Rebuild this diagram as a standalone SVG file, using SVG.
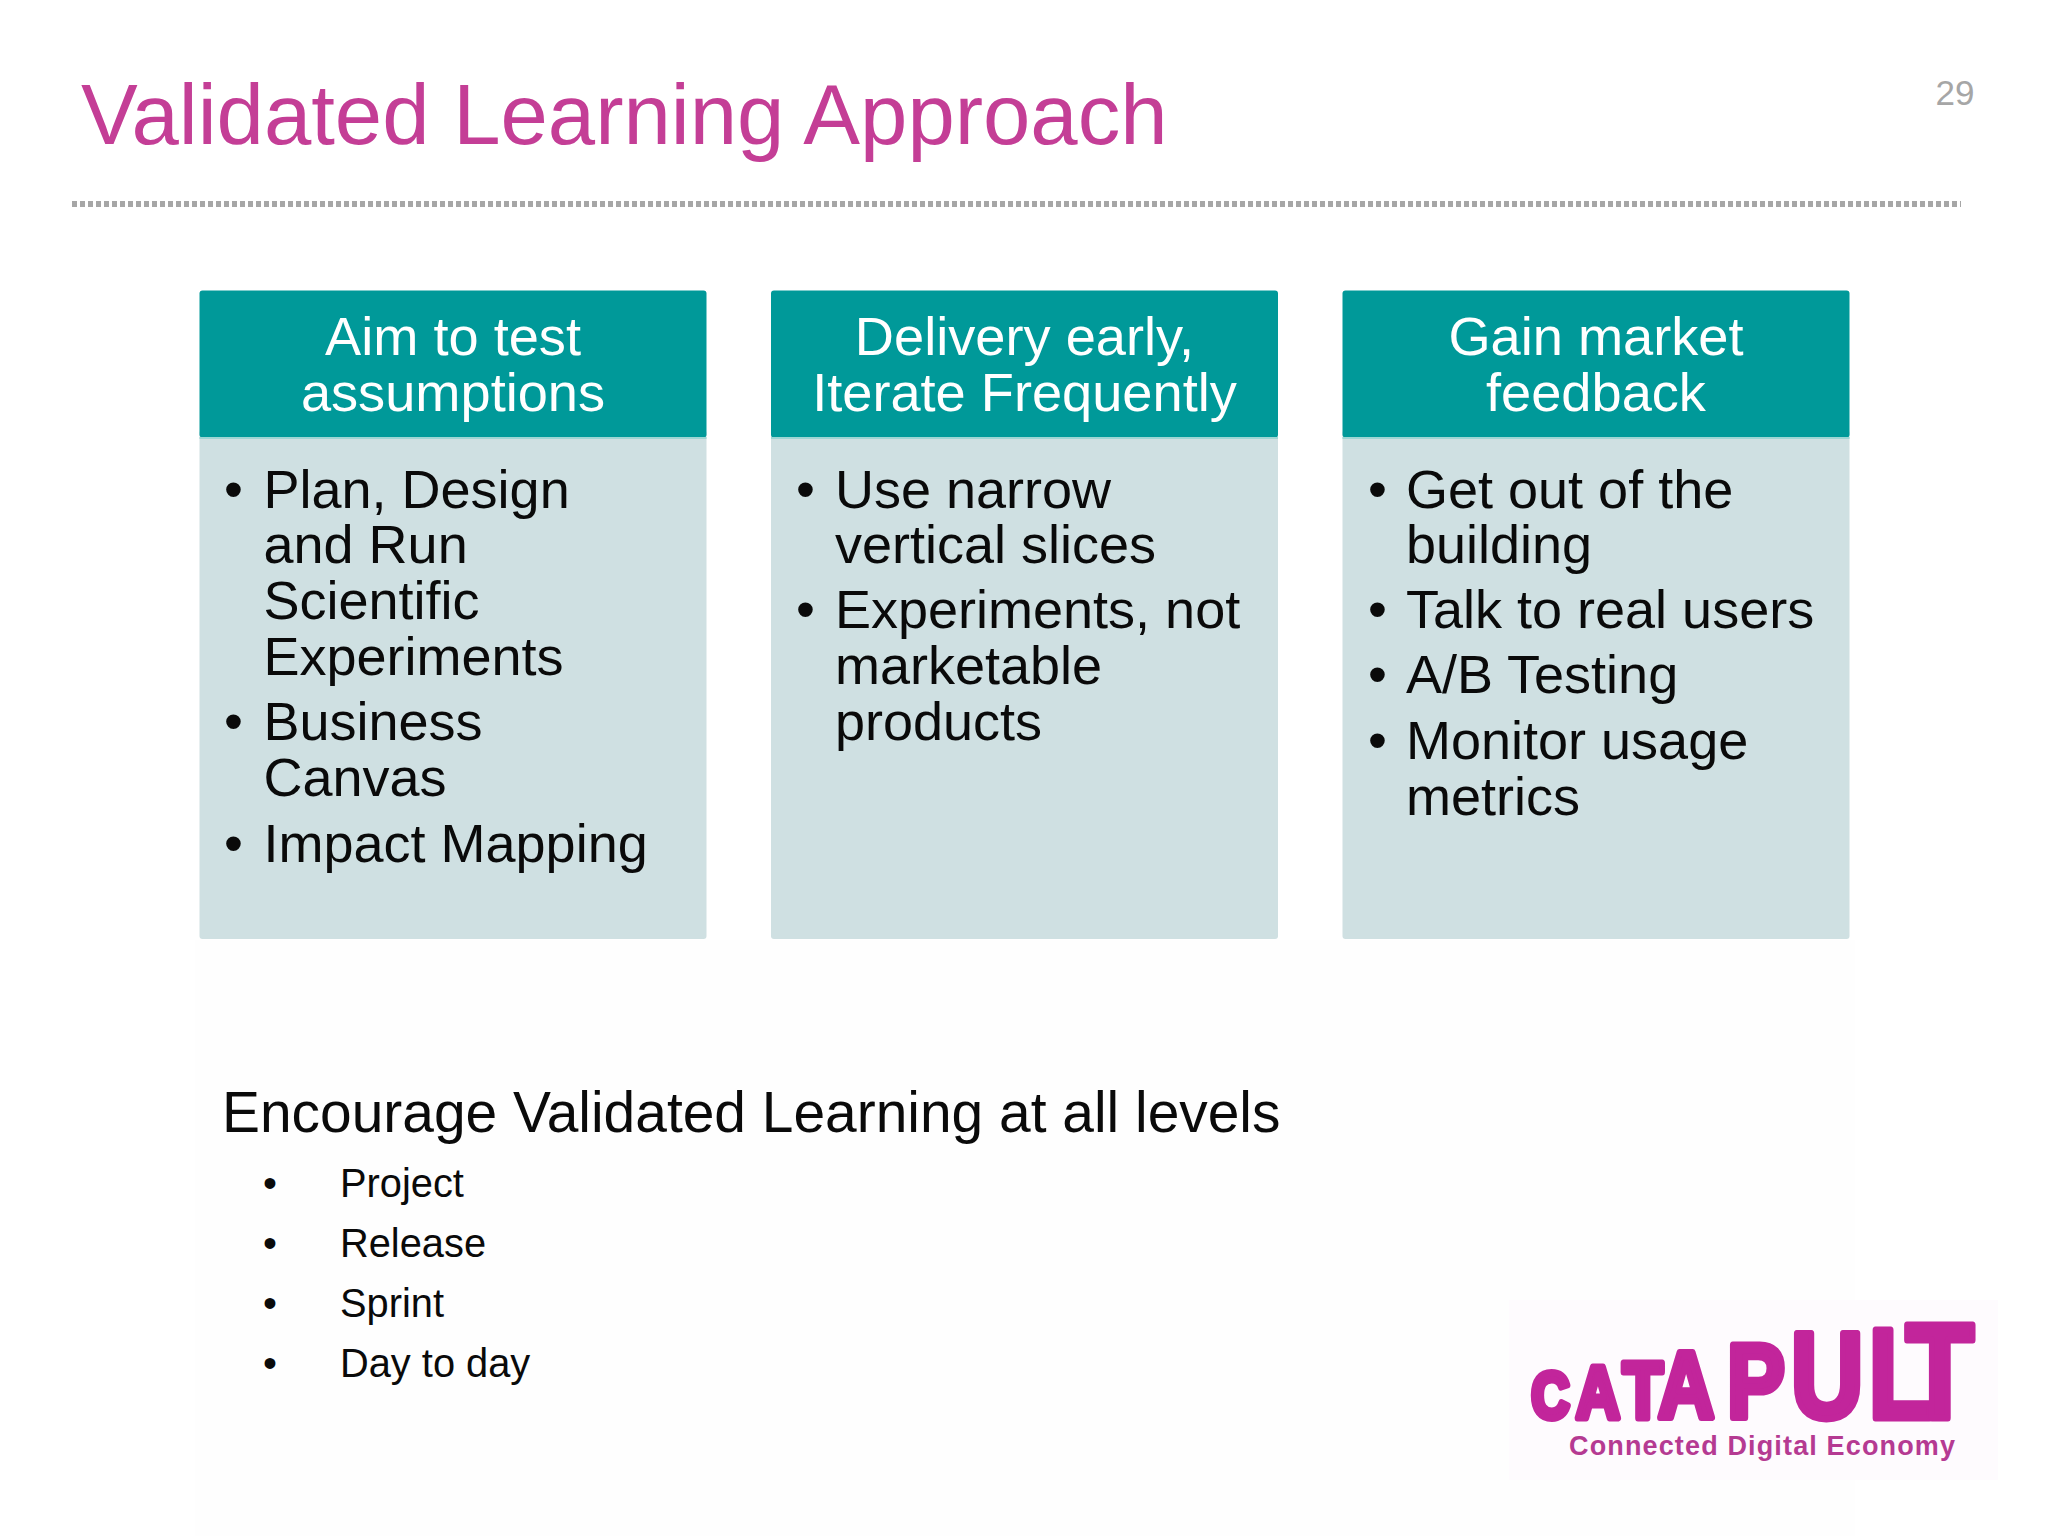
<svg xmlns="http://www.w3.org/2000/svg" width="2048" height="1536" viewBox="0 0 2048 1536">
<style>
text{font-family:"Liberation Sans",Arial,sans-serif}
.hd{fill:#009999}.bd{fill:#CFE0E2}.edge{fill:#9ED6D4}
.h{font-size:54.2px;fill:#fff;text-anchor:middle}
.b{font-size:54px;fill:#0A0A0A}
.s{font-size:39.8px;fill:#0A0A0A}
.logo{font-weight:700;fill:#C2259B;stroke:#C2259B;stroke-width:7;stroke-linejoin:round}
</style>
<rect width="2048" height="1536" fill="#FFFFFF"/>
<rect x="195" y="940" width="1660" height="596" fill="#FEFEFE"/>
<rect x="1509" y="1300" width="489" height="180" fill="#FEFBFE"/>
<g id="title">
<text x="81" y="144" font-size="85.1" fill="#C43E96">Validated Learning Approach</text>
<text x="1955" y="105" font-size="35" text-anchor="middle" fill="#A6A6A6">29</text>
<line x1="72" y1="204" x2="1961" y2="204" stroke="#A6A6A6" stroke-width="6" stroke-dasharray="5 3"/>
</g>
<g id="col1">
<rect class="bd" x="199.5" y="430" width="507" height="509" rx="3"/>
<rect class="hd" x="199.5" y="290.5" width="507" height="147" rx="3"/>
<rect class="edge" x="199.5" y="437" width="507" height="2"/>
<text class="h"><tspan x="453" y="355">Aim to test</tspan><tspan x="453" y="411">assumptions</tspan></text>
<text class="b">
<tspan x="224" y="508">•</tspan><tspan x="263.5" y="508">Plan, Design</tspan>
<tspan x="263.5" y="563">and Run</tspan>
<tspan x="263.5" y="619">Scientific</tspan>
<tspan x="263.5" y="675">Experiments</tspan>
<tspan x="224" y="740">•</tspan><tspan x="263.5" y="740">Business</tspan>
<tspan x="263.5" y="796">Canvas</tspan>
<tspan x="224" y="862">•</tspan><tspan x="263.5" y="862">Impact Mapping</tspan>
</text>
</g>
<g id="col2">
<rect class="bd" x="771" y="430" width="507" height="509" rx="3"/>
<rect class="hd" x="771" y="290.5" width="507" height="147" rx="3"/>
<rect class="edge" x="771" y="437" width="507" height="2"/>
<text class="h"><tspan x="1024.5" y="355">Delivery early,</tspan><tspan x="1024.5" y="411">Iterate Frequently</tspan></text>
<text class="b">
<tspan x="796" y="508">•</tspan><tspan x="835" y="508">Use narrow</tspan>
<tspan x="835" y="563">vertical slices</tspan>
<tspan x="796" y="628">•</tspan><tspan x="835" y="628">Experiments, not</tspan>
<tspan x="835" y="684">marketable</tspan>
<tspan x="835" y="740">products</tspan>
</text>
</g>
<g id="col3">
<rect class="bd" x="1342.5" y="430" width="507" height="509" rx="3"/>
<rect class="hd" x="1342.5" y="290.5" width="507" height="147" rx="3"/>
<rect class="edge" x="1342.5" y="437" width="507" height="2"/>
<text class="h"><tspan x="1596" y="355">Gain market</tspan><tspan x="1596" y="411">feedback</tspan></text>
<text class="b">
<tspan x="1368" y="508">•</tspan><tspan x="1406" y="508">Get out of the</tspan>
<tspan x="1406" y="563">building</tspan>
<tspan x="1368" y="628">•</tspan><tspan x="1406" y="628">Talk to real users</tspan>
<tspan x="1368" y="693">•</tspan><tspan x="1406" y="693">A/B Testing</tspan>
<tspan x="1368" y="759">•</tspan><tspan x="1406" y="759">Monitor usage</tspan>
<tspan x="1406" y="815">metrics</tspan>
</text>
</g>
<g id="levels">
<text x="222" y="1132" font-size="56.9" fill="#0A0A0A">Encourage Validated Learning at all levels</text>
<text class="s">
<tspan x="263" y="1197">•</tspan><tspan x="340" y="1197">Project</tspan>
<tspan x="263" y="1257">•</tspan><tspan x="340" y="1257">Release</tspan>
<tspan x="263" y="1317">•</tspan><tspan x="340" y="1317">Sprint</tspan>
<tspan x="263" y="1377">•</tspan><tspan x="340" y="1377">Day to day</tspan>
</text>
</g>
<g id="logo">
<text class="logo" transform="scale(.82 1)">
<tspan x="1867.6" y="1418" font-size="64">C</tspan><tspan x="1922" y="1418" font-size="74">A</tspan><tspan x="1979" y="1418" font-size="80">T</tspan><tspan x="2022" y="1418" font-size="95">A</tspan><tspan x="2106" y="1418" font-size="106">P</tspan><tspan x="2184" y="1418" font-size="123">U</tspan><tspan x="2278.7" y="1418" font-size="128">L</tspan><tspan x="2324" y="1418" font-size="136">T</tspan>
</text>
<text x="1569" y="1455" font-size="27" font-weight="700" fill="#B53A92" textLength="386" lengthAdjust="spacing">Connected Digital Economy</text>
</g>
</svg>
